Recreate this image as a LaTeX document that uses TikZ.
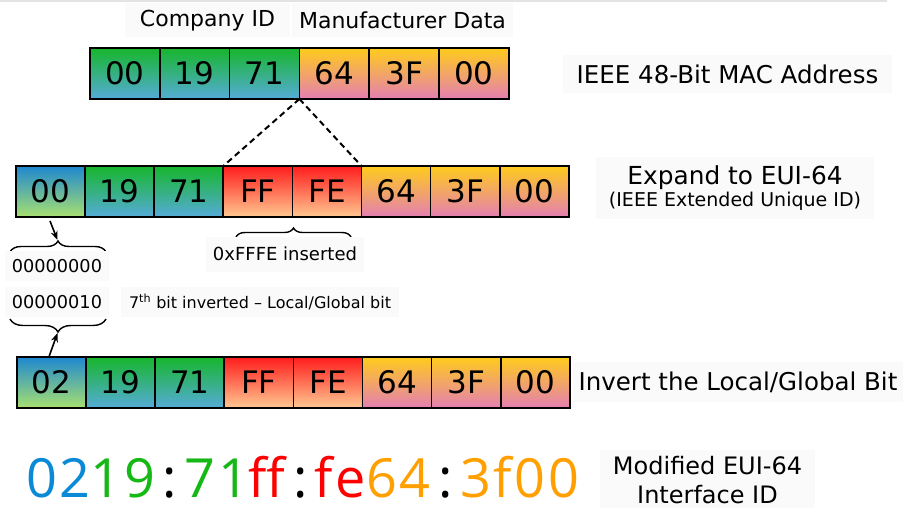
\documentclass[tikz,border=0pt]{standalone}
\usepackage{fontspec}
\setmainfont{DejaVu Sans}
\newfontfamily\bigfont[LetterSpace=5]{Open Sans}
\usetikzlibrary{arrows.meta,decorations.pathreplacing,calc}

\definecolor{cgreen}{HTML}{17B52C}
\definecolor{cblue}{HTML}{55ACD8}
\definecolor{cdeep}{HTML}{1E88D0}
\definecolor{clime}{HTML}{A8E070}
\definecolor{cyellow}{HTML}{FFCB1C}
\definecolor{cpink}{HTML}{E47FB2}
\definecolor{cred}{HTML}{FF1C1C}
\definecolor{cpeach}{HTML}{FFC892}
\definecolor{tblue}{HTML}{0A8AD6}
\definecolor{tgreen}{HTML}{16B816}
\definecolor{tred}{HTML}{FF0000}
\definecolor{torange}{HTML}{FFA000}
\definecolor{panel}{HTML}{FAFAFA}

\tikzset{
  x=1pt, y=1pt,
  cell/.style={draw=black, line width=1.7pt, minimum height=51pt,
    inner sep=0pt, outer sep=0pt, anchor=north west, font=\fontsize{31}{31}\selectfont},
  grnblu/.style={top color=cgreen, bottom color=cblue},
  yelpnk/.style={top color=cyellow, bottom color=cpink},
  blugrn/.style={top color=cdeep, bottom color=clime},
  redpch/.style={top color=cred, bottom color=cpeach},
  panelbox/.style={fill=panel, inner sep=0pt, align=center},
  dashline/.style={draw=black, line width=2pt, dash pattern=on 6pt off 4pt},
  bracket/.style={draw=black, line width=1.4pt, decorate},
  pointer/.style={draw=black, line width=1.6pt, -{Stealth[length=9pt,width=7pt]}},
}

\begin{document}
\begin{tikzpicture}
\useasboundingbox (0,0) rectangle (903,-508);
\fill[white] (0,0) rectangle (903,-508);
\draw[gray!22, line width=1.5pt] (0,-1) -- (887,-1);

% 48-bit MAC address
\node[panelbox, minimum width=165pt, minimum height=34pt, font=\fontsize{22}{22}\selectfont]
  (cid) at (207.5,-20.5) {Company ID};
\node[panelbox, minimum width=221pt, minimum height=34pt, font=\fontsize{22}{22}\selectfont]
  (mfd) at (402.5,-20.5) {Manufacturer Data};
\foreach \txt/\sty [count=\i] in {00/grnblu,19/grnblu,71/grnblu,64/yelpnk,3F/yelpnk,00/yelpnk}
  \node[cell,\sty,minimum width=69.8pt] (t\i) at ({90+(\i-1)*69.8},-48) {\txt};
\node[panelbox, minimum width=329pt, minimum height=38pt, font=\fontsize{24.5}{24.5}\selectfont]
  (lmac) at (727.5,-74) {IEEE 48-Bit MAC Address};

% EUI-64
\foreach \txt/\sty [count=\i] in {00/blugrn,19/grnblu,71/grnblu,FF/redpch,FE/redpch,64/yelpnk,3F/yelpnk,00/yelpnk}
  \node[cell,\sty,minimum width=69.1pt] (m\i) at ({16+(\i-1)*69.1},-166) {\txt};
\node[panelbox, minimum width=278pt, minimum height=62pt] (leui) at (735,-188)
  {{\fontsize{24.8}{27}\selectfont Expand to EUI-64}\\[1pt]{\fontsize{19}{20}\selectfont (IEEE Extended Unique ID)}};

\draw[dashline] (t3.south east) -- (m4.north west);
\draw[dashline] (t3.south east) -- (m5.north east);

% inserted bytes
\coordinate (fa) at (236,-237);
\coordinate (fb) at (351,-237);
\draw[bracket, decoration={brace, amplitude=9pt}] (fa) -- (fb);
\node[panelbox, minimum width=158pt, minimum height=35pt, font=\fontsize{18}{18}\selectfont]
  (lins) at (285,-254) {0xFFFE inserted};

% first byte, before and after
\coordinate (ua) at (10,-252);
\coordinate (ub) at (106,-252);
\coordinate (utip) at (57.5,-240);
\draw[bracket, decoration={brace, amplitude=11pt}] (ua) -- (ub);
\coordinate (ustart) at (50,-221);
\draw[pointer] (ustart) -- (utip);

\node[panelbox, minimum width=104pt, minimum height=30pt, font=\fontsize{17.7}{17.7}\selectfont]
  (b0) at (57,-266) {00000000};
\node[panelbox, minimum width=104pt, minimum height=30pt, font=\fontsize{17.7}{17.7}\selectfont]
  (b1) at (57,-302) {00000010};
\node[panelbox, minimum width=278pt, minimum height=30pt, font=\fontsize{16}{16}\selectfont]
  (lbit) at (260,-302) {7\textsuperscript{th} bit inverted -- Local/Global bit};

\coordinate (la) at (106,-319);
\coordinate (lb) at (10,-319);
\coordinate (ltip) at (57.5,-333);
\draw[bracket, decoration={brace, amplitude=13pt}] (la) -- (lb);

% modified EUI-64
\foreach \txt/\sty [count=\i] in {02/blugrn,19/grnblu,71/grnblu,FF/redpch,FE/redpch,64/yelpnk,3F/yelpnk,00/yelpnk}
  \node[cell,\sty,minimum width=69.1pt] (n\i) at ({17+(\i-1)*69.1},-357) {\txt};
\coordinate (lstart) at ($(n1.north)+(-3,-1)$);
\draw[pointer] (lstart) -- (ltip);
\node[panelbox, minimum width=330pt, minimum height=40pt, font=\fontsize{24.5}{24.5}\selectfont]
  (linv) at (738,-382) {Invert the Local/Global Bit};

% interface identifier
\node[anchor=base west, inner sep=0pt, font=\bigfont\fontsize{54}{54}\selectfont]
  (iid) at (26,-497)
  {\textcolor{tblue}{02}\textcolor{tgreen}{19}\hspace{7.5pt}:\hspace{7.5pt}\textcolor{tgreen}{71}\textcolor{tred}{ff}\hspace{7.5pt}:\hspace{7.5pt}\textcolor{tred}{fe}\textcolor{torange}{64}\hspace{7.5pt}:\hspace{7.5pt}\textcolor{torange}{3f00}};
\node[panelbox, minimum width=215pt, minimum height=61pt, font=\fontsize{24}{29}\selectfont]
  (lmod) at (707.5,-480) {Modified EUI-64\\Interface ID};
\end{tikzpicture}
\end{document}
